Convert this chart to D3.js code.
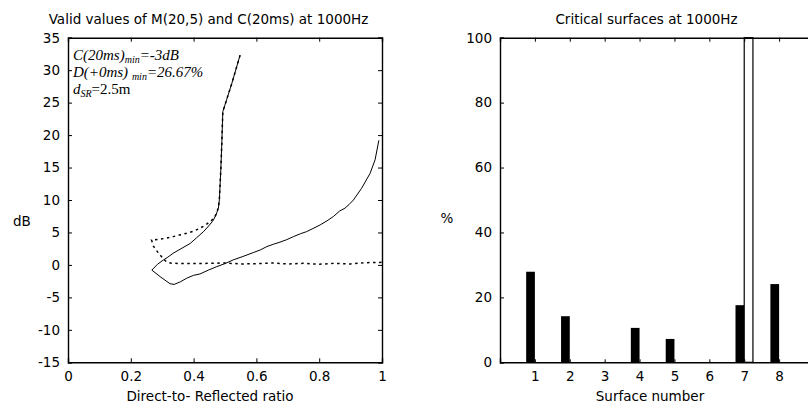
<!DOCTYPE html>
<html>
<head>
<meta charset="utf-8">
<script src="https://cdn.jsdelivr.net/npm/d3@7"></script>
<style>
  body { margin: 0; background: #fff; }
  svg { display: block; }
  .lbl { font-family: "DejaVu Sans", sans-serif; font-size: 13.5px; fill: #000; }
  .ann { font-family: "Liberation Serif", serif; font-size: 15px; fill: #000; }
</style>
</head>
<body>
<div id="chart"></div>
<script>
// left panel: two curves, dB vs direct-to-reflected ratio
const solidRatio = [0.548, 0.522, 0.493, 0.490, 0.487, 0.484, 0.482, 0.479, 0.472, 0.463, 0.448, 0.431, 0.410, 0.389, 0.360, 0.335, 0.318, 0.304, 0.285, 0.267,
  0.296, 0.325, 0.338, 0.358, 0.378, 0.400, 0.420, 0.447, 0.474, 0.500, 0.526, 0.557, 0.590, 0.612, 0.633, 0.655, 0.675, 0.697, 0.718, 0.740,
  0.760, 0.780, 0.803, 0.825, 0.845, 0.865, 0.882, 0.895, 0.909, 0.935, 0.962, 0.978, 0.990];
const solidDb = [32.3, 28.0, 23.6, 19.0, 15.0, 12.0, 10.0, 8.7, 7.8, 6.9, 6.0, 5.1, 4.2, 3.3, 2.5, 1.8, 1.2, 0.77, 0.1, -0.8,
  -1.9, -2.9, -3.0, -2.6, -2.05, -1.6, -1.4, -0.8, -0.26, 0.2, 0.77, 1.3, 1.9, 2.3, 2.82, 3.2, 3.5, 3.9, 4.36, 4.8,
  5.13, 5.6, 6.16, 6.8, 7.45, 8.3, 8.74, 9.3, 10.0, 11.8, 14.1, 16.2, 19.2];

const dottedRatio = [0.548, 0.522, 0.493, 0.490, 0.487, 0.484, 0.482, 0.479, 0.474, 0.465, 0.452, 0.437, 0.420, 0.400, 0.378, 0.355, 0.335, 0.310, 0.293, 0.266,
  0.272, 0.290, 0.305, 0.314, 0.330, 0.400, 0.450, 0.500, 0.550, 0.600, 0.650, 0.700, 0.750, 0.800, 0.850, 0.900, 0.950, 1.000];
const dottedDb = [32.3, 28.0, 23.6, 19.0, 15.0, 12.0, 10.0, 9.0, 8.0, 7.2, 6.67, 6.1, 5.65, 5.2, 4.88, 4.6, 4.36, 4.1, 3.96, 3.85,
  2.9, 1.7, 0.9, 0.45, 0.25, 0.2, 0.25, 0.3, 0.15, 0.2, 0.3, 0.15, 0.25, 0.1, 0.25, 0.15, 0.35, 0.4];

const ratioTicks = [0, 0.2, 0.4, 0.6, 0.8, 1];
const dbTicks = [-15, -10, -5, 0, 5, 10, 15, 20, 25, 30, 35];

// right panel: critical surfaces
const surfaces = [1, 2, 3, 4, 5, 6, 7, 8];
const criticalBlack = [27.9, 14.2, 0, 10.6, 7.2, 0, 17.6, 24.1];
const criticalWhite = [0, 0, 0, 0, 0, 0, 100, 0];
const pctTicks = [0, 20, 40, 60, 80, 100];

const W = 808, H = 409;
const svg = d3.select("#chart").append("svg")
    .attr("width", W)
    .attr("height", H);

const plainFmt = d => String(d); // keep ascii hyphen for negatives

// ---------- left panel ----------
const x1 = d3.scaleLinear().domain([0, 1]).range([68, 382]);
const y1 = d3.scaleLinear().domain([-15, 35]).range([362.3, 37.7]);

const left = svg.append("g");

function frameAxes(g, x, y, xt, yt, tickRight) {
    // bottom / left with labels, top / right ticks only, all pointing inward
    g.append("g")
        .attr("class", "xbottom")
        .attr("transform", `translate(0,${y.range()[0]})`)
        .call(d3.axisBottom(x).tickValues(xt).tickSize(-4).tickPadding(9).tickFormat(plainFmt));
    g.append("g")
        .attr("transform", `translate(0,${y.range()[1]})`)
        .call(d3.axisTop(x).tickValues(xt).tickSize(-4).tickFormat(""));
    g.append("g")
        .attr("transform", `translate(${x.range()[0]},0)`)
        .call(d3.axisLeft(y).tickValues(yt).tickSize(-4).tickPadding(8).tickFormat(plainFmt));
    if (tickRight) {
        g.append("g")
            .attr("transform", `translate(${x.range()[1]},0)`)
            .call(d3.axisRight(y).tickValues(yt).tickSize(-4).tickFormat(""));
    }
    g.selectAll(".domain").attr("stroke", "#000").attr("stroke-width", 1.4);
    g.selectAll(".tick line").attr("stroke", "#000").attr("stroke-width", 1);
    g.selectAll(".tick text").attr("class", "lbl").attr("font-size", null).attr("font-family", null);
}

frameAxes(left, x1, y1, ratioTicks, dbTicks, true);

const line1 = d3.line().x(d => x1(d[0])).y(d => y1(d[1]));

left.append("path")
    .datum(d3.zip(dottedRatio, dottedDb))
    .attr("fill", "none")
    .attr("stroke", "#000")
    .attr("stroke-width", 1.5)
    .attr("stroke-dasharray", "2.5,3.5")
    .attr("d", line1);

left.append("path")
    .datum(d3.zip(solidRatio, solidDb))
    .attr("fill", "none")
    .attr("stroke", "#000")
    .attr("stroke-width", 1)
    .attr("d", line1);

left.append("text").attr("class", "lbl")
    .attr("x", 208.5).attr("y", 24)
    .attr("text-anchor", "middle")
    .text("Valid values of M(20,5) and C(20ms) at 1000Hz");

left.append("text").attr("class", "lbl")
    .attr("x", 210).attr("y", 401)
    .attr("text-anchor", "middle")
    .text("Direct-to- Reflected ratio");

left.append("text").attr("class", "lbl")
    .attr("x", 13).attr("y", 226)
    .text("dB");

// annotation block
const ann = left.append("g").attr("class", "ann");
const a1 = ann.append("text").attr("x", 73).attr("y", 60).attr("font-style", "italic");
a1.append("tspan").text("C(20ms)");
a1.append("tspan").attr("font-size", 10).attr("dy", 3).text("min");
a1.append("tspan").attr("dy", -3).text("=-3dB");

const a2 = ann.append("text").attr("x", 73).attr("y", 77).attr("font-style", "italic");
a2.append("tspan").text("D(+0ms) ");
a2.append("tspan").attr("font-size", 10).attr("dy", 3).text("min");
a2.append("tspan").attr("dy", -3).text("=26.67%");

const a3 = ann.append("text").attr("x", 73).attr("y", 94);
a3.append("tspan").attr("font-style", "italic").text("d");
a3.append("tspan").attr("font-style", "italic").attr("font-size", 10).attr("dy", 3).text("SR");
a3.append("tspan").attr("dy", -3).text("=2.5m");

// ---------- right panel ----------
const x2 = d3.scaleLinear().domain([0, 9]).range([500, 814]);
const y2 = d3.scaleLinear().domain([0, 100]).range([362.3, 37.7]);

const right = svg.append("g");

const barW = x2(0.25) - x2(0);

right.selectAll(".bar-black")
    .data(surfaces)
    .enter().append("rect")
    .attr("class", "bar-black")
    .attr("x", (d) => x2(d - 0.25))
    .attr("y", (d, i) => y2(criticalBlack[i]))
    .attr("width", barW)
    .attr("height", (d, i) => y2(0) - y2(criticalBlack[i]))
    .attr("fill", "#000");

right.selectAll(".bar-white")
    .data(surfaces)
    .enter().append("rect")
    .attr("class", "bar-white")
    .attr("x", (d) => x2(d))
    .attr("y", (d, i) => y2(criticalWhite[i]))
    .attr("width", barW)
    .attr("height", (d, i) => y2(0) - y2(criticalWhite[i]))
    .attr("fill", "#fff")
    .attr("stroke", "#000")
    .attr("stroke-width", 1.2);

frameAxes(right, x2, y2, surfaces, pctTicks, false);
right.select(".xbottom").selectAll(".tick line").attr("y2", -3);

right.append("text").attr("class", "lbl")
    .attr("x", 646.5).attr("y", 24)
    .attr("text-anchor", "middle")
    .text("Critical surfaces at 1000Hz");

right.append("text").attr("class", "lbl")
    .attr("x", 650).attr("y", 401)
    .attr("text-anchor", "middle")
    .text("Surface number");

right.append("text").attr("class", "lbl")
    .attr("x", 447).attr("y", 223)
    .attr("text-anchor", "middle")
    .text("%");
</script>
</body>
</html>
